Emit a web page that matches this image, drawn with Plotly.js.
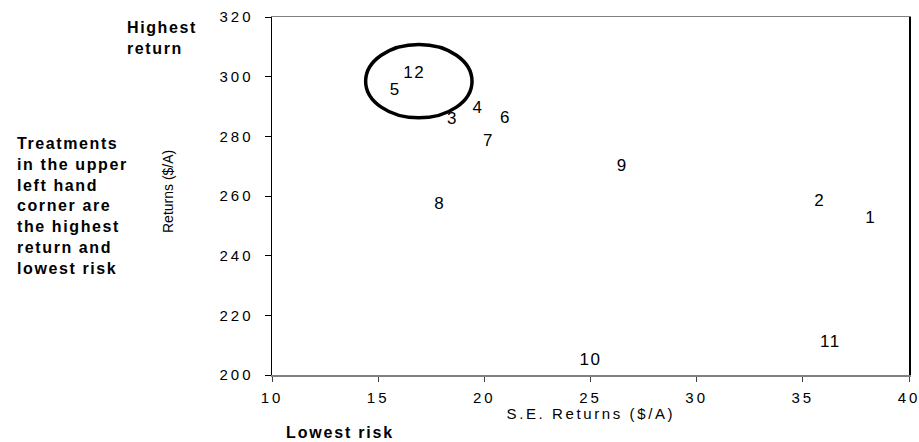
<!DOCTYPE html>
<html>
<head>
<meta charset="utf-8">
<script src="https://cdn.plot.ly/plotly-3.0.1.min.js"></script>
<style>
html,body{margin:0;padding:0;background:#fff;}
#chart{width:919px;height:442px;}
.xtick text, .ytick text {letter-spacing:3px;}
.textpoint text {letter-spacing:1.5px;}
</style>
</head>
<body>
<div id="chart"></div>
<script>
// Treatment labels and their (risk, return) values
const treatments = ["1","2","3","4","5","6","7","8","9","10","11","12"];
const seReturns  = [38.2, 35.8, 18.5, 19.7, 15.8, 21.0, 20.2, 17.9, 26.5, 25.0, 36.3, 16.7];
const returns    = [252.4, 258.0, 285.6, 289.3, 295.4, 285.9, 278.1, 257.1, 269.7, 204.8, 210.9, 301.0];

const xTicks = [10, 15, 20, 25, 30, 35, 40];
const yTicks = [200, 220, 240, 260, 280, 300, 320];

const FONT = "Liberation Sans, Arial, sans-serif";

const trace = {
  type: "scatter",
  mode: "text",
  x: seReturns,
  y: returns,
  text: treatments,
  textposition: "middle center",
  textfont: {family: FONT, size: 17, color: "#000"},
  hoverinfo: "skip",
  showlegend: false
};

const layout = {
  width: 919,
  height: 442,
  margin: {l: 272, r: 10, t: 17, b: 67, pad: 0},
  paper_bgcolor: "#fff",
  plot_bgcolor: "#fff",
  showlegend: false,
  xaxis: {
    range: [10, 40],
    tickvals: xTicks,
    ticktext: xTicks.map(String),
    showgrid: false, zeroline: false,
    showline: true, linecolor: "#808080", linewidth: 1.5, mirror: true,
    ticks: "outside", ticklen: 5, tickcolor: "#404040", tickwidth: 1,
    tickfont: {family: FONT, size: 15, color: "#000"},
    ticklabelstandoff: 3,
    ticklabeloverflow: "allow",
    fixedrange: true
  },
  yaxis: {
    range: [200, 320],
    tickvals: yTicks,
    ticktext: yTicks.map(String),
    showgrid: false, zeroline: false,
    showline: true, linecolor: "#000", linewidth: 1.5, mirror: true,
    ticks: "outside", ticklen: 6, tickcolor: "#000", tickwidth: 1,
    tickfont: {family: FONT, size: 15, color: "#000"},
    ticklabelstandoff: 8,
    ticklabeloverflow: "allow",
    fixedrange: true
  },
  shapes: [{
    type: "circle", xref: "x", yref: "y",
    x0: 14.41, x1: 19.42, y0: 286.2, y1: 310.8,
    line: {color: "#000", width: 3.5}
  }],
  annotations: [
    {text: "S.E. Returns ($/A)", xref: "paper", yref: "paper", x: 0.5, y: 0,
     xanchor: "center", yanchor: "middle", yshift: -38, xshift: 0, showarrow: false,
     font: {family: FONT, size: 15, color: "#000"}},
    {text: "Returns ($/A)", xref: "paper", yref: "paper", x: 0, y: 0.5,
     xanchor: "center", yanchor: "middle", xshift: -104, yshift: 4, textangle: -90, showarrow: false,
     font: {family: FONT, size: 14, color: "#000"}},
    {text: "<b>Highest<br>return</b>", xref: "paper", yref: "paper", x: 0, y: 1,
     xanchor: "left", yanchor: "middle", xshift: -147, yshift: -21, align: "left", showarrow: false,
     font: {family: FONT, size: 16, color: "#000"}},
    {text: "<b>Treatments<br>in the upper<br>left hand<br>corner are<br>the highest<br>return and<br>lowest risk</b>",
     xref: "paper", yref: "paper", x: 0, y: 0.5,
     xanchor: "left", yanchor: "middle", xshift: -257, yshift: -10, align: "left", showarrow: false,
     font: {family: FONT, size: 16, color: "#000"}},
    {text: "<b>Lowest risk</b>", xref: "paper", yref: "paper", x: 0, y: 0,
     xanchor: "center", yanchor: "middle", xshift: 68, yshift: -57, showarrow: false,
     font: {family: FONT, size: 16, color: "#000"}}
  ]
};

const spacing = ["2.6px", "0px", "1.6px", "1.6px", "1.8px"];

Plotly.newPlot("chart", [trace], layout, {displayModeBar: false, staticPlot: true}).then(function(){
  const anns = document.querySelectorAll(".annotation-text");
  anns.forEach(function(el, i){ el.style.letterSpacing = spacing[i] || "0px"; });
});
</script>
</body>
</html>
